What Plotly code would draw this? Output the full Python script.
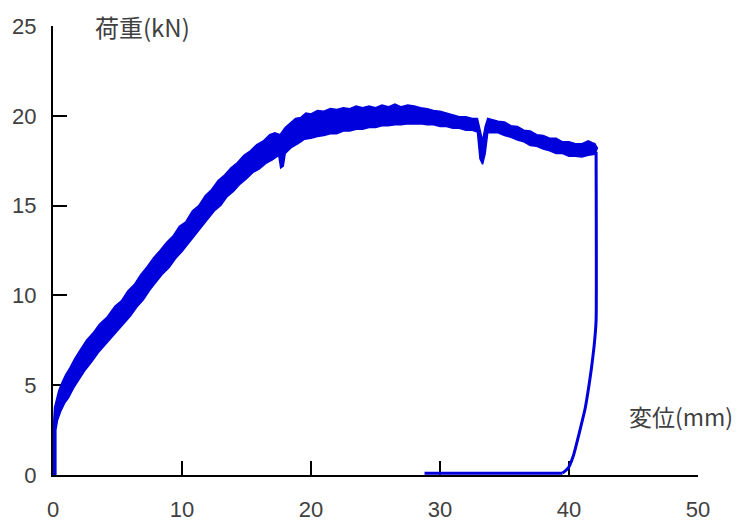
import plotly.graph_objects as go

# Load-displacement record (displacement in mm, load in kN)
# Loading branch drawn as a noisy band: upper and lower edges of the trace
upper_x = [0.05, 0.05, 0.12, 0.25, 0.45, 0.7, 1.0, 1.3, 1.7, 2.1, 2.6, 3.1, 3.6, 4.2, 4.8,
           5.3, 5.8, 6.3, 6.8, 7.3, 7.8, 8.3, 8.8, 9.3, 9.8, 10.3, 10.8, 11.3, 11.8, 12.3,
           12.8, 13.3, 13.8, 14.3, 14.8, 15.3, 15.8, 16.3, 16.8, 17.2, 17.6, 18.0, 18.4,
           18.8, 19.2, 19.6, 20.0, 20.5, 21.0, 21.5, 22.0, 22.5, 23.0, 23.5, 24.0, 24.5,
           25.0, 25.5, 26.0, 26.5, 27.0, 27.5, 28.0, 28.5, 29.0, 29.5, 30.0, 30.5, 31.0,
           31.5, 32.0, 32.5, 32.9, 33.1, 33.3, 33.5, 33.7, 34.0, 34.5, 35.0, 35.5, 36.0,
           36.5, 37.0, 37.5, 38.0, 38.5, 39.0, 39.5, 40.0, 40.5, 41.0, 41.5, 41.8, 42.0,
           42.2]
upper_y = [0.0, 2.9, 3.75, 4.2, 4.7, 5.15, 5.6, 5.95, 6.5, 6.95, 7.5, 7.9, 8.4, 8.8, 9.4,
           9.7, 10.25, 10.6, 11.15, 11.6, 12.1, 12.5, 12.95, 13.3, 13.85, 14.1, 14.7, 15.0,
           15.55, 15.9, 16.4, 16.7, 17.1, 17.4, 17.8, 18.05, 18.4, 18.6, 18.95, 19.05, 18.95,
           19.35, 19.6, 19.85, 19.9, 20.15, 20.1, 20.3, 20.25, 20.4, 20.35, 20.45, 20.4,
           20.55, 20.45, 20.55, 20.45, 20.6, 20.5, 20.65, 20.5, 20.6, 20.55, 20.45, 20.4,
           20.3, 20.25, 20.15, 20.05, 19.95, 19.95, 19.85, 19.85, 19.2, 18.6, 19.4, 19.85,
           19.8, 19.7, 19.65, 19.45, 19.4, 19.2, 19.15, 18.95, 18.9, 18.75, 18.75, 18.55,
           18.55, 18.45, 18.45, 18.6, 18.5, 18.45, 18.2]

lower_x = [0.22, 0.22, 0.35, 0.6, 0.9, 1.2, 1.6, 2.0, 2.5, 3.0, 3.5, 4.0, 4.5, 5.0, 5.5,
           6.0, 6.5, 7.0, 7.5, 8.0, 8.5, 9.0, 9.5, 10.0, 10.5, 11.0, 11.5, 12.0, 12.5, 13.0,
           13.5, 14.0, 14.5, 15.0, 15.5, 16.0, 16.5, 17.0, 17.5, 17.65, 17.85, 18.0, 18.5,
           19.0, 19.5, 20.0, 20.5, 21.0, 21.5, 22.0, 22.5, 23.0, 23.5, 24.0, 24.5, 25.0,
           25.5, 26.0, 26.5, 27.0, 27.5, 28.0, 28.5, 29.0, 29.5, 30.0, 30.5, 31.0, 31.5,
           32.0, 32.5, 32.9, 33.1, 33.3, 33.5, 33.7, 34.0, 34.5, 35.0, 35.5, 36.0, 36.5,
           37.0, 37.5, 38.0, 38.5, 39.0, 39.5, 40.0, 40.5, 41.0, 41.5, 42.0]
lower_y = [0.0, 2.5, 3.05, 3.55, 4.0, 4.3, 4.85, 5.3, 5.85, 6.3, 6.8, 7.2, 7.65, 8.0, 8.45,
           8.85, 9.35, 9.75, 10.3, 10.75, 11.2, 11.55, 12.05, 12.45, 12.9, 13.3, 13.8,
           14.25, 14.7, 15.0, 15.5, 15.8, 16.2, 16.5, 16.85, 17.05, 17.35, 17.55, 17.8,
           17.1, 17.2, 17.9, 18.25, 18.45, 18.7, 18.75, 18.85, 18.9, 19.0, 19.0, 19.15,
           19.15, 19.25, 19.25, 19.35, 19.35, 19.45, 19.45, 19.5, 19.5, 19.55, 19.55,
           19.55, 19.5, 19.5, 19.4, 19.4, 19.3, 19.3, 19.2, 19.2, 19.1, 17.6, 17.3, 17.9,
           19.05, 19.05, 19.05, 18.9, 18.8, 18.65, 18.55, 18.35, 18.3, 18.15, 18.05, 17.9,
           17.9, 17.75, 17.75, 17.7, 17.8, 17.85]

# Failure drop and unloading curve down to zero load
unload_x = [42.1, 42.1, 41.95, 41.75, 41.55, 41.25, 40.85, 40.35, 39.95, 39.5]
unload_y = [18.0, 8.6, 7.2, 6.0, 5.0, 3.7, 2.5, 1.1, 0.4, 0.1]

# Zero-load return along the baseline
return_x = [39.5, 28.8]
return_y = [0.1, 0.1]

x_ticks = [0, 10, 20, 30, 40, 50]
y_ticks = [0, 5, 10, 15, 20, 25]

BLUE = "#0000DC"
TEXT = "#404040"

fig = go.Figure()

# band outline: upper edge left to right, lower edge right to left
band_x = upper_x + lower_x[::-1]
band_y = upper_y + lower_y[::-1]
fig.add_trace(go.Scatter(
    x=band_x, y=band_y, mode="lines", fill="toself", fillcolor=BLUE,
    line=dict(color=BLUE, width=1.5), hoverinfo="skip", showlegend=False,
))
fig.add_trace(go.Scatter(
    x=unload_x, y=unload_y, mode="lines",
    line=dict(color=BLUE, width=3, shape="spline", smoothing=0.4), showlegend=False,
))
fig.add_trace(go.Scatter(
    x=return_x, y=return_y, mode="lines",
    line=dict(color=BLUE, width=3), showlegend=False,
))

axis_common = dict(
    showgrid=False, zeroline=False, showline=True, linecolor="black", linewidth=2,
    ticks="inside", ticklen=14, tickwidth=1.5, tickcolor="black",
    tickfont=dict(family="Liberation Sans, Arial", size=22, color=TEXT),
    layer="below traces", fixedrange=True, automargin=False,
)

fig.update_xaxes(range=[0, 50], tickvals=x_ticks, ticklabelstandoff=14, **axis_common)
fig.update_yaxes(range=[0, 25], tickvals=y_ticks, ticklabelstandoff=10, **axis_common)

fig.add_annotation(
    x=3.1, y=25, xref="x", yref="y", text="荷重(kN)", showarrow=False,
    xanchor="left", yanchor="middle",
    font=dict(family="Noto Sans CJK JP", size=24, color=TEXT),
)
fig.add_annotation(
    x=44.5, y=3.3, xref="x", yref="y", text="変位(mm)", showarrow=False,
    xanchor="left", yanchor="middle",
    font=dict(family="Noto Sans CJK JP", size=23, color=TEXT),
)

fig.update_layout(
    width=740, height=527,
    margin=dict(l=53, r=42, t=26, b=52),
    paper_bgcolor="white", plot_bgcolor="white",
    showlegend=False,
)

fig.write_html("out.html")
